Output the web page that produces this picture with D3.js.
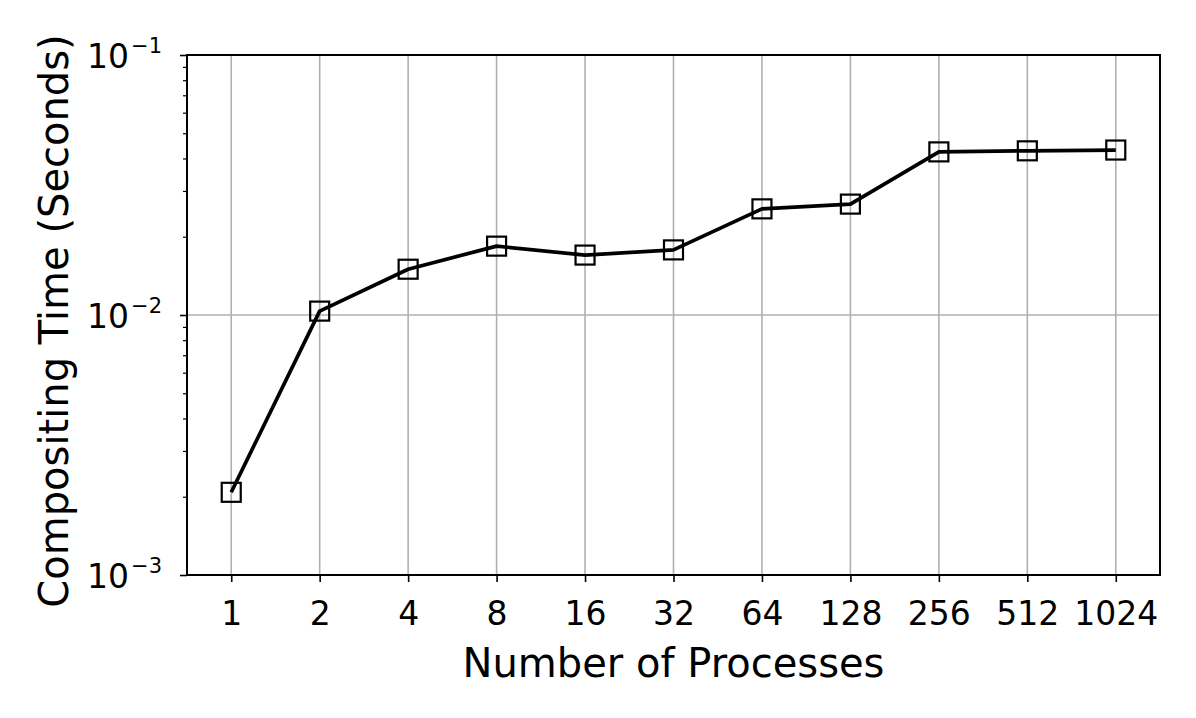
<!DOCTYPE html>
<meta charset="utf-8">
<title>Compositing Time</title>
<style type="text/css">
	body { margin: 0; background: white; }
	text { font-family: "DejaVu Sans", sans-serif; fill: black; }
</style>
<body>
<div id="chart"></div>
</body>
<script src="https://d3js.org/d3.v7.min.js"></script>
<script>

// data
var processes = ["1", "2", "4", "8", "16", "32", "64", "128", "256", "512", "1024"];
var times = [0.00208, 0.01035, 0.0150, 0.0184, 0.0170, 0.0178, 0.0256, 0.0267, 0.0424, 0.0428, 0.0431];
var yTicks = [1e-3, 1e-2, 1e-1];
var yTickExp = ["\u22123", "\u22122", "\u22121"];

var margin = {top: 55, right: 36, bottom: 143, left: 187},
	width = 1196 - margin.left - margin.right,
	height = 718 - margin.top - margin.bottom;

var svg = d3.select("#chart").append("svg")
	.attr("width", 1196)
	.attr("height", 718)
	.append("g")
	.attr("transform", "translate(" + margin.left + "," + margin.top + ")");

var x = d3.scalePoint()
	.domain(processes)
	.range([0, width])
	.padding(0.5);

var y = d3.scaleLog()
	.domain([1e-3, 1e-1])
	.range([height, 0]);

// minor ticks for log axis
var minorTicks = [];
[1e-3, 1e-2].forEach(function (d) {
	for (var k = 2; k <= 9; k++) minorTicks.push(d * k);
});

// grid
svg.append("g").selectAll("line.vgrid")
	.data(processes)
	.enter().append("line")
	.attr("x1", function (d) { return x(d); })
	.attr("x2", function (d) { return x(d); })
	.attr("y1", 0).attr("y2", height)
	.attr("stroke", "#b0b0b0").attr("stroke-width", 1.6);

svg.append("g").selectAll("line.hgrid")
	.data(yTicks)
	.enter().append("line")
	.attr("x1", 0).attr("x2", width)
	.attr("y1", function (d) { return y(d); })
	.attr("y2", function (d) { return y(d); })
	.attr("stroke", "#b0b0b0").attr("stroke-width", 1.6);

// x axis
var xAxis = svg.append("g")
	.attr("transform", "translate(0," + height + ")")
	.call(d3.axisBottom(x).tickSizeInner(7).tickSizeOuter(0).tickPadding(20));
xAxis.select(".domain").remove();
xAxis.selectAll("line").attr("stroke", "black").attr("stroke-width", 1.6);
xAxis.selectAll("text").style("font-size", "33px").style("font-family", "DejaVu Sans");

// y axis major
var yAxis = svg.append("g")
	.call(d3.axisLeft(y).tickValues(yTicks).tickSizeInner(7).tickSizeOuter(0).tickFormat(""));
yAxis.select(".domain").remove();
yAxis.selectAll("line").attr("stroke", "black").attr("stroke-width", 1.6);

// y axis minor
var yMinor = svg.append("g")
	.call(d3.axisLeft(y).tickValues(minorTicks).tickSize(4).tickFormat(""));
yMinor.select(".domain").remove();
yMinor.selectAll("line").attr("stroke", "black").attr("stroke-width", 1.2);

// y tick labels as 10^n
var yl = svg.append("g").selectAll("text.ylab")
	.data(yTicks)
	.enter().append("text")
	.attr("x", -25)
	.attr("y", function (d) { return y(d) + 13; })
	.attr("text-anchor", "end")
	.style("font-size", "33px");
yl.append("tspan").text("10");
yl.append("tspan")
	.attr("dx", 2)
	.attr("dy", -15)
	.style("font-size", "21px")
	.text(function (d, i) { return yTickExp[i]; });

// frame
svg.append("rect")
	.attr("width", width).attr("height", height)
	.attr("fill", "none")
	.attr("stroke", "black").attr("stroke-width", 2);

// line
var points = processes.map(function (p, i) { return {p: p, v: times[i]}; });

svg.append("path")
	.datum(points)
	.attr("d", d3.line()
		.x(function (d) { return x(d.p); })
		.y(function (d) { return y(d.v); }))
	.attr("fill", "none")
	.attr("stroke", "black")
	.attr("stroke-width", 3.7)
	.attr("stroke-linejoin", "round");

svg.append("g").selectAll("rect.mk")
	.data(points)
	.enter().append("rect")
	.attr("x", function (d) { return x(d.p) - 9.5; })
	.attr("y", function (d) { return y(d.v) - 9.5; })
	.attr("width", 19).attr("height", 19)
	.attr("fill", "none")
	.attr("stroke", "black")
	.attr("stroke-width", 2.2);

// axis titles
svg.append("text")
	.attr("x", width / 2)
	.attr("y", height + 102)
	.attr("text-anchor", "middle")
	.style("font-size", "40px")
	.text("Number of Processes");

svg.append("text")
	.attr("transform", "rotate(-90)")
	.attr("x", -266)
	.attr("y", -119)
	.attr("text-anchor", "middle")
	.style("font-size", "40px")
	.text("Compositing Time (Seconds)");

</script>
